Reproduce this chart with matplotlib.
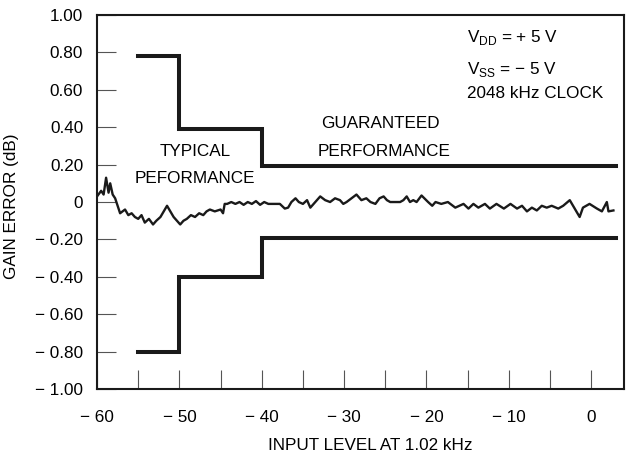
"""Gain error vs input level (codec datasheet figure)."""

import matplotlib
matplotlib.use("Agg")
import matplotlib.pyplot as plt
from matplotlib.ticker import FixedLocator

plt.rcParams["font.family"] = ["Liberation Sans", "DejaVu Sans"]
plt.rcParams["mathtext.fontset"] = "custom"
plt.rcParams["mathtext.rm"] = "Liberation Sans"

# guaranteed performance limits (step lines)
upper_x = [-55, -50, -50, -40, -40, 3]
upper_y = [0.78, 0.78, 0.39, 0.39, 0.19, 0.19]
lower_x = [-55, -50, -50, -40, -40, 3]
lower_y = [-0.80, -0.80, -0.40, -0.40, -0.19, -0.19]

noise_x = [-60.0, -59.5, -59.2, -58.9, -58.6, -58.4, -58.1, -57.8, -57.5, -57.2,
           -56.6, -56.2, -55.8, -55.4, -55.0, -54.6, -54.2, -53.7, -53.2, -52.8,
           -52.3, -51.9, -51.5, -51.1, -50.7, -50.3, -49.9, -49.5, -49.1, -48.6,
           -48.1, -47.6, -47.1, -46.7, -46.3, -45.7, -45.0, -44.7, -44.5, -44.2,
           -43.7, -43.2, -42.7, -42.2, -41.7, -41.2, -40.7, -40.2, -39.7, -39.2,
           -38.5, -37.8, -37.2, -36.8, -36.4, -35.9, -35.5, -35.0, -34.5, -34.1,
           -33.5, -32.9, -32.3, -31.7, -31.1, -30.5, -30.1, -29.7, -29.1, -28.5,
           -27.9, -27.3, -26.8, -26.2, -25.7, -25.2, -24.8, -24.4, -23.8, -23.2,
           -22.8, -22.4, -22.0, -21.6, -21.2, -20.6, -19.8, -19.3, -18.9, -18.2,
           -17.4, -16.5, -15.5, -14.9, -14.3, -13.7, -12.9, -12.3, -11.5, -10.6,
           -9.8, -9.0, -8.4, -7.8, -7.2, -6.6, -6.0, -5.4, -4.8, -4.0,
           -3.4, -2.6, -2.0, -1.4, -1.0, -0.2, 0.7, 1.3, 1.9, 2.1, 2.7]
noise_y = [0.03, 0.06, 0.04, 0.13, 0.05, 0.10, 0.04, 0.02, -0.02, -0.06,
           -0.04, -0.07, -0.06, -0.08, -0.09, -0.07, -0.11, -0.09, -0.12, -0.10,
           -0.08, -0.05, -0.02, -0.05, -0.08, -0.10, -0.12, -0.10, -0.09, -0.07,
           -0.08, -0.06, -0.07, -0.05, -0.04, -0.05, -0.04, -0.06, -0.01, -0.01,
           0.00, -0.01, 0.00, -0.015, 0.00, -0.01, 0.005, -0.015, 0.00, -0.01,
           -0.01, -0.01, -0.035, -0.03, 0.00, 0.02, 0.00, -0.01, 0.01, -0.03,
           0.00, 0.03, 0.01, 0.00, 0.02, 0.01, -0.01, 0.00, 0.02, 0.04,
           0.01, 0.02, 0.00, -0.01, 0.02, 0.03, 0.01, 0.00, 0.00, 0.00,
           0.01, 0.03, 0.00, 0.01, 0.00, 0.035, 0.00, -0.02, 0.00, -0.01,
           0.00, -0.03, -0.01, -0.035, -0.01, -0.03, -0.01, -0.035, -0.01, -0.035,
           -0.01, -0.035, -0.02, -0.05, -0.03, -0.045, -0.02, -0.03, -0.02, -0.035,
           -0.02, 0.01, -0.035, -0.08, -0.03, -0.01, -0.035, -0.05, 0.00, -0.05, -0.045]

y_ticks = [1.0, 0.8, 0.6, 0.4, 0.2, 0.0, -0.2, -0.4, -0.6, -0.8, -1.0]
y_labels = ["1.00", "0.80", "0.60", "0.40", "0.20", "0",
            "\u2212 0.20", "\u2212 0.40", "\u2212 0.60", "\u2212 0.80", "\u2212 1.00"]
x_ticks = [-60, -50, -40, -30, -20, -10, 0]
x_labels = ["\u2212 60", "\u2212 50", "\u2212 40", "\u2212 30", "\u2212 20", "\u2212 10", "0"]
x_minor = [-55, -45, -35, -25, -15, -5]


def main() -> None:
    fig = plt.figure(figsize=(6.26, 4.54), dpi=100)
    ax = fig.add_axes([0.155, 0.143, 0.842, 0.824])

    ax.plot(upper_x, upper_y, color="#1a1a1a", lw=2.9, solid_joinstyle="miter")
    ax.plot(lower_x, lower_y, color="#1a1a1a", lw=2.9, solid_joinstyle="miter")
    ax.plot(noise_x, noise_y, color="#1a1a1a", lw=1.7)

    ax.set_xlim(-60, 4)
    ax.set_ylim(-1.0, 1.0)

    ax.set_yticks(y_ticks)
    ax.set_yticklabels(y_labels)
    ax.set_xticks(x_ticks)
    ax.set_xticklabels(x_labels)
    ax.xaxis.set_minor_locator(FixedLocator(x_minor))

    ax.tick_params(axis="y", direction="in", length=14, width=0.8, color="#555555",
                   labelsize=12.3, pad=10)
    ax.tick_params(axis="x", which="both", direction="in", length=14, width=0.8,
                   color="#555555", labelsize=12.3, pad=15)
    for spine in ax.spines.values():
        spine.set_linewidth(1.5)
        spine.set_color("#1a1a1a")

    ax.set_ylabel("GAIN ERROR (dB)", fontsize=12.3)
    ax.yaxis.set_label_coords(-0.148, 0.49)
    ax.set_xlabel("INPUT LEVEL AT 1.02 kHz", fontsize=12.3)
    ax.xaxis.set_label_coords(0.518, -0.13)

    ax.text(-48.1, 0.27, "TYPICAL", ha="center", va="center", fontsize=12.3)
    ax.text(-48.1, 0.128, "PEFORMANCE", ha="center", va="center", fontsize=12.3)
    ax.text(-25.6, 0.42, "GUARANTEED", ha="center", va="center", fontsize=12.3)
    ax.text(-25.2, 0.27, "PERFORMANCE", ha="center", va="center", fontsize=12.3)

    ax.text(-15.1, 0.88, r"V$_{\mathregular{DD}}$ = + 5 V", ha="left", va="center", fontsize=12.3)
    ax.text(-15.1, 0.71, "V$_{\\mathregular{SS}}$ = \u2212 5 V", ha="left", va="center", fontsize=12.3)
    ax.text(-15.1, 0.58, "2048 kHz CLOCK", ha="left", va="center", fontsize=12.3)

    fig.savefig("out.png", dpi=100)
    plt.close(fig)


if __name__ == "__main__":
    main()
